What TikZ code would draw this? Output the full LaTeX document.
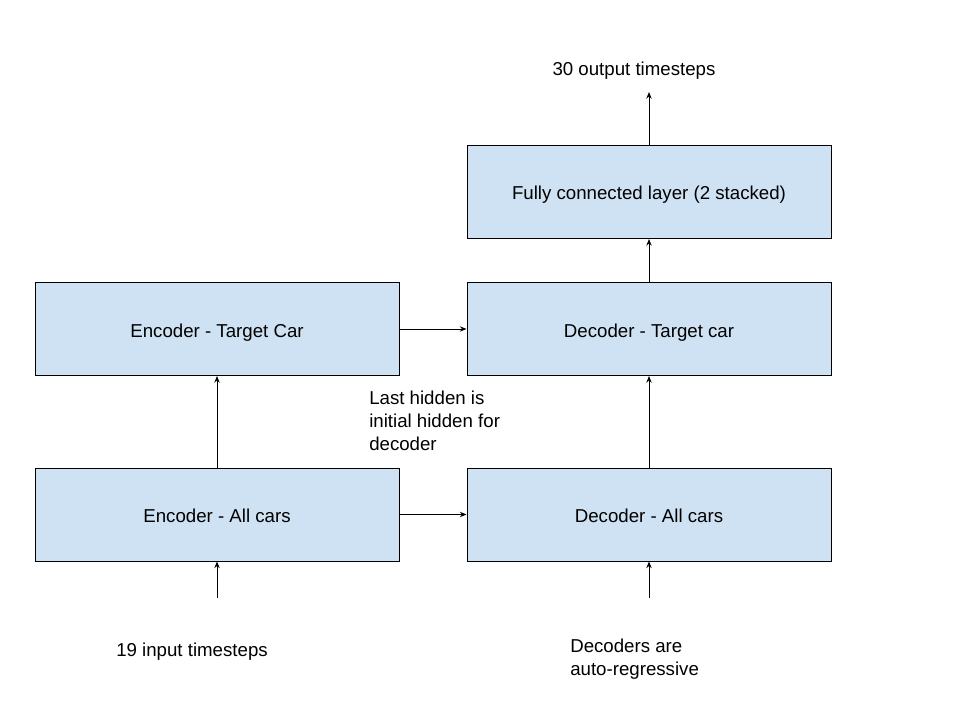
\documentclass[tikz,border=0pt]{standalone}
\usepackage{fontspec}
\setmainfont{Liberation Sans}
\usetikzlibrary{arrows.meta}
\definecolor{boxfill}{HTML}{CFE2F3}
\begin{document}
\begin{tikzpicture}[x=0.75pt,y=-0.75pt,
  txt/.style={font=\fontsize{14}{16.9}\selectfont, inner sep=0pt},
  block/.style={txt, text height=15pt, text depth=3pt,
    draw=black, line width=0.75pt, fill=boxfill,
    minimum width=364*0.75pt, minimum height=93*0.75pt},
  label/.style={txt, anchor=base},
  multilabel/.style={txt, align=left, anchor=base west},
  flow/.style={draw=black, line width=0.75pt, -{Stealth[length=5pt,width=4pt]}}]
\useasboundingbox (0,0) rectangle (960,720);

% boxes
\node[block] (fc)   at (649,192)   {Fully connected layer (2 stacked)};
\node[block] (enct) at (217,329)   {Encoder - Target Car};
\node[block] (dect) at (649,329)   {Decoder - Target car};
\node[block] (enca) at (217,514.5) {Encoder - All cars};
\node[block] (deca) at (649,514.5) {Decoder - All cars};

% free ends of the input / output arrows
\coordinate (outend) at (649,92);
\coordinate (instart) at (217,598);
\coordinate (decstart) at (649,598);

% text labels (multi-line ones placed on their last baseline)
\node[label] (outtxt) at (634,76) {30 output timesteps};
\node[label] (intxt) at (192,656) {19 input timesteps};
\node[multilabel] (hidtxt) at (369,450) {Last hidden is\\initial hidden for\\decoder};
\node[multilabel] (artxt) at (570,675.5) {Decoders are\\auto-regressive};

% connectors
\draw[flow] (fc.north) -- (outend);
\draw[flow] (dect.north) -- (fc.south);
\draw[flow] (deca.north) -- (dect.south);
\draw[flow] (enca.north) -- (enct.south);
\draw[flow] (enct.east) -- (dect.west);
\draw[flow] (enca.east) -- (deca.west);
\draw[flow] (instart) -- (enca.south);
\draw[flow] (decstart) -- (deca.south);
\end{tikzpicture}
\end{document}
